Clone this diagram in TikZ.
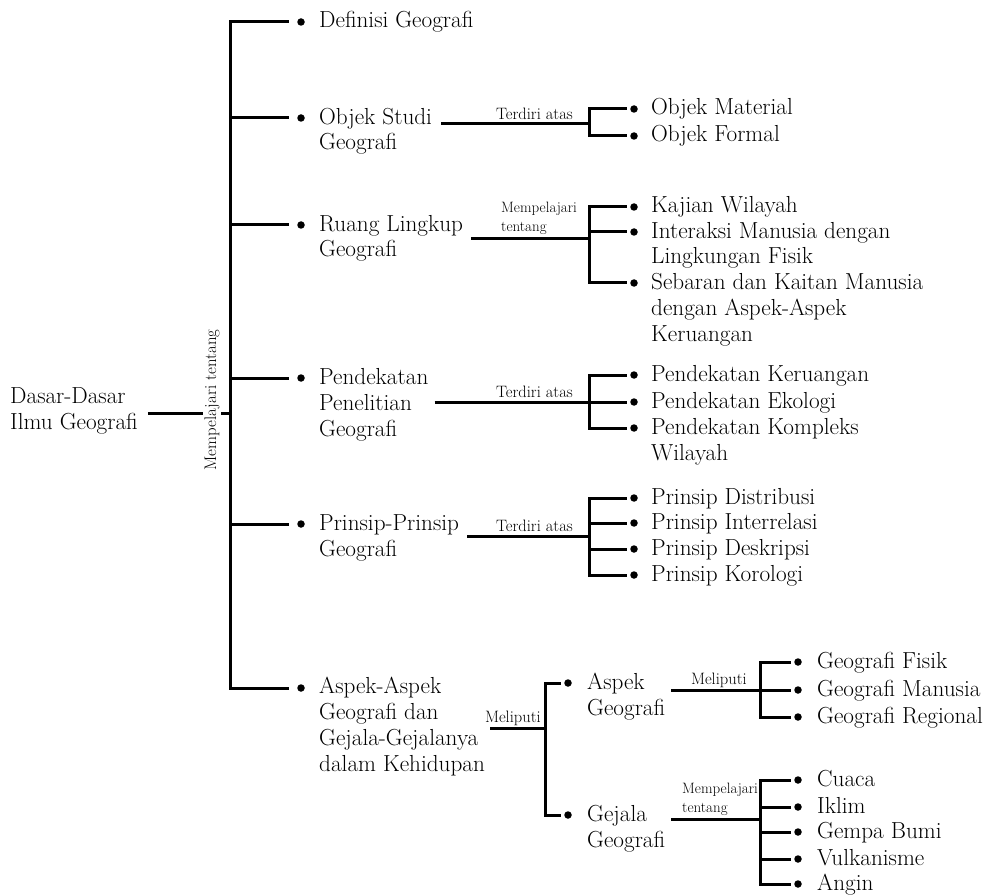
\documentclass[tikz,border=0pt]{standalone}
\usepackage{fontspec}
\usepackage{tikz}
\usetikzlibrary{calc}

\tikzset{
	conn/.style={line width=3pt},
	bul/.style={circle, fill=black, inner sep=0pt, minimum size=7.5pt, outer sep=3pt},
	bulone/.style={bul, outer sep=8pt},
	itemtext/.style={anchor=base west, align=left, inner sep=0pt, font=\fontsize{23.2}{25.8}\selectfont},
	lbl/.style={anchor=base east, inner sep=0pt, font=\fontsize{16.5}{18}\selectfont},
	lbltwo/.style={anchor=base west, align=left, inner sep=0pt, font=\fontsize{15}{19}\selectfont},
}

\begin{document}
\begin{tikzpicture}[x=1pt, y=-1pt]
	%%%%% START %%%%%
	\useasboundingbox (0,0) rectangle (991,896);
	
	% root and trunk (multi-line nodes sit on their last baseline)
	\node[itemtext] (root) at (10,429) {Dasar-Dasar\\Ilmu Geografi};
	\node[inner sep=1.5pt, rotate=90, font=\fontsize{16.8}{18}\selectfont] (mt) at (212,400) {Mempelajari tentang};
	\coordinate (J) at (230,413);
	\draw[conn] ([xshift=10pt]root.east |- J) -- (mt.north |- J);
	\draw[conn] (mt.south |- J) -- (J);
	
	\node[bulone] (d1) at (301,22) {};
	\node[bulone] (d2) at (301,118) {};
	\node[bulone] (d3) at (301,225) {};
	\node[bulone] (d4) at (301,378) {};
	\node[bulone] (d5) at (301,524) {};
	\node[bulone] (d6) at (301,688) {};
	\node[itemtext] (t1) at (319,28) {Definisi Geografi};
	\node[itemtext] (t2) at (319,150) {Objek Studi\\Geografi};
	\node[itemtext] (t3) at (319,257) {Ruang Lingkup\\Geografi};
	\node[itemtext] (t4) at (319,436) {Pendekatan\\Penelitian\\Geografi};
	\node[itemtext] (t5) at (319,556) {Prinsip-Prinsip\\Geografi};
	\node[itemtext] (t6) at (319,771) {Aspek-Aspek\\Geografi dan\\Gejala-Gejalanya\\dalam Kehidupan};
	\draw[conn] (J) |- (d1);
	\draw[conn] (J) |- (d2);
	\draw[conn] (J) |- (d3);
	\draw[conn] (J) |- (d4);
	\draw[conn] (J) |- (d5);
	\draw[conn] (J) |- (d6);
	
	% objek studi
	\coordinate (jA) at (589,124);
	\draw[conn] ([xshift=9pt]t2.east |- jA) -- (jA);
	\node[lbl] (lA) at (573,120) {Terdiri atas};
	\node[bul] (a1) at (634,109) {};
	\node[bul] (a2) at (634,136) {};
	\node[itemtext] (ta1) at (651,115) {Objek Material};
	\node[itemtext] (ta2) at (651,142) {Objek Formal};
	\draw[conn] (jA) |- (a1);
	\draw[conn] (jA) |- (a2);
	
	% ruang lingkup
	\coordinate (jB) at (589,239);
	\draw[conn] ([xshift=8pt]t3.east |- jB) -- (jB);
	\node[lbltwo] (lB) at (501,232) {Mempelajari\\tentang};
	\node[bul] (b1) at (634,207) {};
	\node[bul] (b2) at (634,232) {};
	\node[bul] (b3) at (634,283) {};
	\node[itemtext] (tb1) at (651,213) {Kajian Wilayah};
	\node[itemtext] (tb2) at (651,264) {Interaksi Manusia dengan\\Lingkungan Fisik};
	\node[itemtext] (tb3) at (651,341) {Sebaran dan Kaitan Manusia\\dengan Aspek-Aspek\\Keruangan};
	\draw[conn] (jB) |- (b1);
	\draw[conn] (jB) |- (b2);
	\draw[conn] (jB) |- (b3);
	
	% pendekatan
	\coordinate (jC) at (589,402);
	\draw[conn] ([xshift=6pt]t4.east |- jC) -- (jC);
	\node[lbl] (lC) at (573,397) {Terdiri atas};
	\node[bul] (c1) at (634,375) {};
	\node[bul] (c2) at (634,402) {};
	\node[bul] (c3) at (634,428) {};
	\node[itemtext] (tc1) at (651,381) {Pendekatan Keruangan};
	\node[itemtext] (tc2) at (651,408) {Pendekatan Ekologi};
	\node[itemtext] (tc3) at (651,460) {Pendekatan Kompleks\\Wilayah};
	\draw[conn] (jC) |- (c1);
	\draw[conn] (jC) |- (c2);
	\draw[conn] (jC) |- (c3);
	
	% prinsip
	\coordinate (jD) at (589,536);
	\draw[conn] ([xshift=8pt]t5.east |- jD) -- (jD);
	\node[lbl] (lD) at (573,531) {Terdiri atas};
	\node[bul] (p1) at (634,498) {};
	\node[bul] (p2) at (634,523) {};
	\node[bul] (p3) at (634,549) {};
	\node[bul] (p4) at (634,575) {};
	\node[itemtext] (tp1) at (651,504) {Prinsip Distribusi};
	\node[itemtext] (tp2) at (651,529) {Prinsip Interrelasi};
	\node[itemtext] (tp3) at (651,555) {Prinsip Deskripsi};
	\node[itemtext] (tp4) at (651,581) {Prinsip Korologi};
	\draw[conn] (jD) |- (p1);
	\draw[conn] (jD) |- (p2);
	\draw[conn] (jD) |- (p3);
	\draw[conn] (jD) |- (p4);
	
	% aspek-aspek
	\coordinate (jE) at (545,728);
	\draw[conn] ([xshift=5pt]t6.east |- jE) -- (jE);
	\node[lbl] (lE) at (541,722) {Meliputi};
	\node[bul] (e1) at (568,683) {};
	\node[bul] (e2) at (568,815) {};
	\node[itemtext] (te1) at (587,715) {Aspek\\Geografi};
	\node[itemtext] (te2) at (587,847) {Gejala\\Geografi};
	\draw[conn] (jE) |- (e1);
	\draw[conn] (jE) |- (e2);
	
	% aspek geografi
	\coordinate (jF) at (760,690);
	\draw[conn] ([xshift=6pt]te1.east |- jF) -- (jF);
	\node[lbl] (lF) at (747,684) {Meliputi};
	\node[bul] (f1) at (798,662) {};
	\node[bul] (f2) at (798,690) {};
	\node[bul] (f3) at (798,717) {};
	\node[itemtext] (tf1) at (817,668) {Geografi Fisik};
	\node[itemtext] (tf2) at (817,696) {Geografi Manusia};
	\node[itemtext] (tf3) at (817,723) {Geografi Regional};
	\draw[conn] (jF) |- (f1);
	\draw[conn] (jF) |- (f2);
	\draw[conn] (jF) |- (f3);
	
	% gejala geografi
	\coordinate (jG) at (760,819);
	\draw[conn] ([xshift=6pt]te2.east |- jG) -- (jG);
	\node[lbltwo] (lG) at (682,812) {Mempelajari\\tentang};
	\node[bul] (g1) at (798,780) {};
	\node[bul] (g2) at (798,807) {};
	\node[bul] (g3) at (798,832) {};
	\node[bul] (g4) at (798,859) {};
	\node[bul] (g5) at (798,884) {};
	\node[itemtext] (tg1) at (817,786) {Cuaca};
	\node[itemtext] (tg2) at (817,813) {Iklim};
	\node[itemtext] (tg3) at (817,838) {Gempa Bumi};
	\node[itemtext] (tg4) at (817,865) {Vulkanisme};
	\node[itemtext] (tg5) at (817,890) {Angin};
	\draw[conn] (jG) |- (g1);
	\draw[conn] (jG) |- (g2);
	\draw[conn] (jG) |- (g3);
	\draw[conn] (jG) |- (g4);
	\draw[conn] (jG) |- (g5);
	%%%%% END %%%%%
\end{tikzpicture}
\end{document}
